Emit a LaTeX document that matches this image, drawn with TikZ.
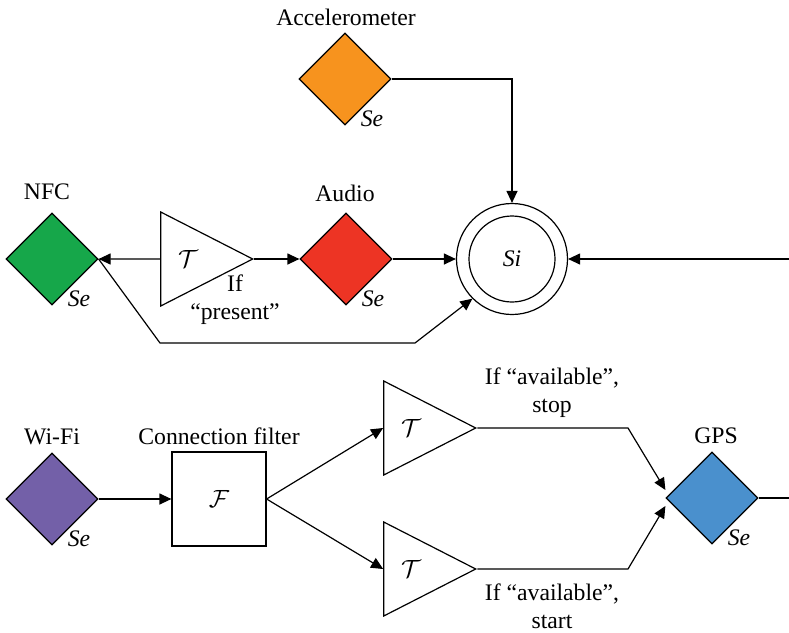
\documentclass[tikz,border=0pt]{standalone}
\usepackage{fontspec}
\setmainfont{Liberation Serif}
\usetikzlibrary{arrows.meta}
\usetikzlibrary{shapes.geometric}
\usetikzlibrary{positioning}
\usetikzlibrary{calc}
\definecolor{accorange}{RGB}{247,147,30}
\definecolor{audiored}{RGB}{237,52,36}
\definecolor{nfcgreen}{RGB}{22,167,74}
\definecolor{wifipurple}{RGB}{115,96,168}
\definecolor{gpsblue}{RGB}{74,144,205}

\begin{document}
\begin{tikzpicture}[x=1pt,y=-1pt,line width=1.2pt,
    font=\fontsize{23.7}{28}\selectfont,
    sensor/.style={shape=diamond,draw=black,inner sep=0pt,
      minimum width=92pt,minimum height=92pt},
    trigger/.style={shape=isosceles triangle,draw=black,inner sep=0pt,
      isosceles triangle stretches,minimum width=94pt,minimum height=92pt},
    se/.style={font=\fontsize{23.7}{28}\selectfont\itshape},
    flow/.style={-{Triangle[length=12pt,width=11pt]}}]
  \useasboundingbox (0,0) rectangle (789,632);

  % upper part: sensors around the sink
  \node[sensor,fill=accorange] (accel) at (345,79) {};
  \node at (346,17) {Accelerometer};
  \node[se] at ($(accel.center)+(27,40)$) {Se};

  \node[sensor,fill=nfcgreen] (nfc) at (52,259) {};
  \node at (47,192) {NFC};
  \node[se] at ($(nfc.center)+(27,40)$) {Se};

  \node[trigger] (present) at (188,259) {$\mathcal{T}$};
  \node[align=center] at (235,300) {If\\``present''};

  \node[sensor,fill=audiored] (audio) at (346,259) {};
  \node at (345,193) {Audio};
  \node[se] at ($(audio.center)+(27,40)$) {Se};

  \node[circle,draw=black,minimum size=111pt] (sink) at (512,259) {};
  \node[circle,draw=black,minimum size=86pt] (sinkin) at (sink.center) {\textit{Si}};

  \coordinate (extin) at (789,259);
  \coordinate (nfcbend) at (160,343);
  \coordinate (nfcrun) at (415,343);

  \draw[flow] (accel.east) -| (sink.north);
  \draw[flow] (present.west) -- (nfc.east);
  \draw[flow] (present.apex) -- (audio.west);
  \draw[flow] (audio.east) -- (sink.west);
  \draw[flow] (extin) -- (sink.east);
  \draw[flow] (nfc.east) -- (nfcbend) -- (nfcrun) -- (sink.south west);

  % lower part: wifi driven gps
  \node[sensor,fill=wifipurple] (wifi) at (52,499) {};
  \node at (52,437) {Wi-Fi};
  \node[se] at ($(wifi.center)+(27,40)$) {Se};

  \node[draw=black,minimum width=94pt,minimum height=94pt] (filter) at (219,499) {$\mathcal{F}$};
  \node at (219,436) {Connection filter};

  \node[trigger] (stop) at (411,428) {$\mathcal{T}$};
  \node[trigger] (start) at (411,569) {$\mathcal{T}$};
  \node[align=center] at (552,393) {If ``available'',\\stop};
  \node[align=center] at (552,606) {If ``available'',\\start};

  \node[sensor,fill=gpsblue] (gps) at (712,498) {};
  \node at (716,436) {GPS};
  \node[se] at ($(gps.center)+(27,40)$) {Se};

  \coordinate (stopbend) at (628,428);
  \coordinate (startbend) at (628,569);
  \coordinate (gpsout) at (789,498);

  \draw[flow] (wifi.east) -- (filter.west);
  \draw[flow] (filter.east) -- (stop.west);
  \draw[flow] (filter.east) -- (start.west);
  \draw[flow] (stop.apex) -- (stopbend) -- ($(gps.west)+(0,-8)$);
  \draw[flow] (start.apex) -- (startbend) -- ($(gps.west)+(0,8)$);
  \draw (gps.east) -- (gpsout);
\end{tikzpicture}
\end{document}
